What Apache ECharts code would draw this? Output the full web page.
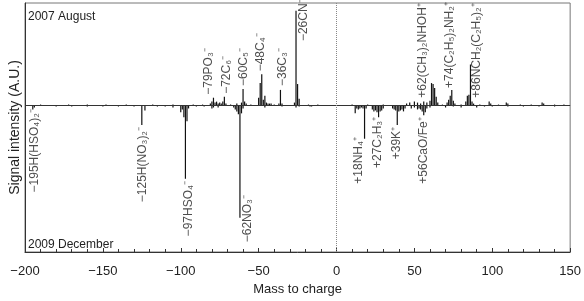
<!DOCTYPE html>
<html>
<head>
<meta charset="utf-8">
<script src="https://cdn.jsdelivr.net/npm/echarts@6/dist/echarts.min.js"></script>
<style>
  html, body { margin: 0; padding: 0; background: #fff; }
  #chart { width: 584px; height: 301px; }
</style>
</head>
<body>
<div id="chart"></div>
<script>
// x axis range and ticks (mass to charge, negative ions drawn at negative m/z)
var xMin = -200, xMax = 150, xStep = 50;

// 2007 August spectrum (drawn upward)
var augMass = [-190, -172, -160, -148, -135, -118, -105, -92, -86,
  -81, -80, -79, -78, -77, -76, -75, -74, -73, -72, -71, -68, -64, -61, -60, -59, -58, -55,
  -50, -49, -48, -47, -46, -45, -44, -43, -42, -40, -37, -36, -35, -27, -26, -25, -24, -18, -12,
  10, 20, 30, 45, 47, 50, 52, 54, 56, 58, 60, 61, 62, 63, 64, 65, 68, 71, 72, 73, 74, 75, 76, 80,
  83, 84, 85, 86, 87, 88, 92, 98, 99, 104, 109, 110, 118, 125, 132, 133, 140, 146];
var augVal = [1, 1, 1, 1, 1, 1, 1, 1, 1,
  2, 4, 8, 3, 4, 2, 3, 2, 4, 9, 2, 1, 2, 3, 17, 4, 2, 1,
  8, 23, 32, 6, 10, 3, 2, 2, 2, 1, 2, 16, 2, 3, 97, 22, 7, 1, 1,
  1, 1, 1, 2, 3, 4, 3, 2, 4, 3, 5, 23, 22, 18, 9, 3, 1, 3, 6, 10, 16, 5, 2, 1,
  4, 10, 11, 42, 4, 2, 1, 4, 2, 1, 3, 2, 1, 1, 3, 2, 1, 1];

// 2009 December spectrum (drawn downward)
var decMass = [-195, -194, -180, -170, -160, -150, -140, -130, -125, -123, -115, -110, -105,
  -100, -99, -98, -97, -96, -95, -90, -85, -80, -79, -76, -66, -65, -64, -63, -62, -61, -60,
  -46, -35, -26, -24, -17, -16,
  12, 13, 14, 15, 16, 17, 18, 19, 23, 24, 25, 26, 27, 28, 29, 30, 36, 37, 38, 39, 40, 41, 42, 43, 44,
  48, 50, 52, 53, 54, 55, 56, 57, 58, 60, 70, 75, 80, 90, 95, 100, 110, 120, 130, 140];
var decVal = [-4, -2, -1, -1, -1, -1, -1, -1, -20, -5, -1, -1, -2,
  -7, -4, -12, -75, -16, -3, -1, -1, -3, -2, -2, -2, -4, -6, -9, -115, -8, -3,
  -2, -1, -2, -1, -1, -1,
  -8, -3, -4, -3, -2, -3, -34, -3, -4, -6, -5, -7, -12, -6, -5, -3, -3, -4, -5, -20, -6, -5, -4, -6, -3,
  -3, -2, -4, -3, -4, -6, -10, -7, -3, -2, -2, -1, -2, -2, -1, -1, -1, -1, -1, -1];

// peak labels: text, m/z and intensity at the start (lower end) of the rotated text
var labelText = ["−79PO₃⁻", "−72C₆⁻", "−60C₅⁻", "−48C₄⁻", "−36C₃⁻", "−26CN⁻",
  "+62(CH₃)₂NHOH⁺", "+74(C₂H₅)₂NH₂⁺", "+86NCH₂(C₂H₅)₂⁺",
  "−195H(HSO₄)₂⁻", "−125H(NO₃)₂⁻", "−97HSO₄⁻", "−62NO₃⁻",
  "+18NH₄⁺", "+27C₂H₃⁺", "+39K⁺", "+56CaO/Fe⁺"];
var labelMass = [-82, -70.5, -59.8, -48.5, -34.5, -20.8,
  55.6, 72.6, 90.2,
  -194, -124.3, -94.6, -56.8,
  14.5, 26.5, 38.5, 56.2];
var labelY = [11, 12, 20, 35, 20, 66,
  8, 18, 8,
  -89, -99, -134, -140,
  -80, -64, -55, -80];

var FONT = "'Liberation Sans', Arial, sans-serif";

function pairs(xs, ys) {
  return xs.map(function (x, i) { return [x, ys[i]]; });
}

var chart = echarts.init(document.getElementById("chart"));
chart.setOption({
  animation: false,
  textStyle: { fontFamily: FONT },
  grid: {
    left: 18, right: 10, top: 3, bottom: 43,
    show: true, borderColor: "#777", borderWidth: 1
  },
  graphic: [
    { type: "text", left: 28, top: 11, style: { text: "2007 August", font: "12px " + FONT, fill: "#222" } },
    { type: "text", left: 28, top: 239, style: { text: "2009 December", font: "12px " + FONT, fill: "#222" } }
  ],
  xAxis: {
    type: "value",
    min: xMin, max: xMax, interval: xStep,
    name: "Mass to charge",
    nameLocation: "middle",
    nameGap: 31,
    nameTextStyle: { fontSize: 13, color: "#222", fontFamily: FONT },
    axisLine: { onZero: false, lineStyle: { color: "#333", width: 1 } },
    axisTick: { inside: true, length: 4, lineStyle: { color: "#333" } },
    minorTick: { show: true, splitNumber: 5, length: 3, lineStyle: { color: "#333" } },
    axisLabel: {
      margin: 13, fontSize: 13, color: "#222", fontFamily: FONT,
      formatter: function (v) { return String(v).replace("-", "\u2212"); }
    },
    splitLine: { show: false }
  },
  yAxis: {
    type: "value",
    min: -150, max: 105,
    name: "Signal intensity (A.U.)",
    nameLocation: "middle",
    nameGap: 3,
    nameTextStyle: { fontSize: 14, color: "#222", fontFamily: FONT },
    axisLine: { show: true, onZero: false, lineStyle: { color: "#333", width: 1 } },
    axisTick: { show: false },
    axisLabel: { show: false },
    splitLine: { show: false }
  },
  series: [
    {
      name: "2007 August",
      type: "bar",
      data: pairs(augMass, augVal),
      barWidth: 1.2,
      barGap: "-100%",
      itemStyle: { color: "#111" },
      markLine: {
        silent: true,
        symbol: "none",
        label: { show: false },
        data: [
          { yAxis: 0, lineStyle: { color: "#333", width: 1, type: "solid" } },
          { xAxis: 0, lineStyle: { color: "#888", width: 1, type: "dotted" } }
        ]
      }
    },
    {
      name: "2009 December",
      type: "bar",
      data: pairs(decMass, decVal),
      barWidth: 1.2,
      barGap: "-100%",
      itemStyle: { color: "#111" }
    },
    {
      name: "labels",
      type: "scatter",
      symbolSize: 0,
      data: labelText.map(function (t, i) {
        return { name: t, value: [labelMass[i], labelY[i]] };
      }),
      label: {
        show: true,
        position: "inside",
        rotate: 90,
        align: "left",
        verticalAlign: "middle",
        fontSize: 12,
        color: "#222",
        fontFamily: FONT,
        formatter: function (p) { return p.name; }
      },
      silent: true
    }
  ]
});
</script>
</body>
</html>
